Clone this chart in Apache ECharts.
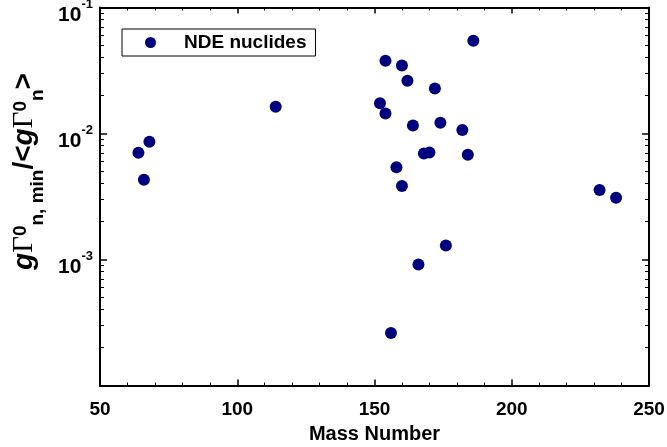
<!DOCTYPE html>
<html>
<head>
<meta charset="utf-8">
<script src="https://cdn.jsdelivr.net/npm/echarts@6/dist/echarts.min.js"></script>
<style>html,body{margin:0;padding:0;background:#fff;}#c{width:667px;height:447px;}</style>
</head>
<body>
<div id="c"></div>
<script>
// Data
const massNumber = [64, 66, 68, 114, 152, 154, 154, 156, 158, 160, 160, 162, 164, 166, 168, 170, 172, 174, 176, 182, 184, 186, 232, 238];
const ratio      = [0.00703, 0.0043, 0.0086, 0.0163, 0.0174, 0.0144, 0.0378, 0.000261, 0.0054, 0.0346, 0.00383, 0.0262, 0.01157, 0.000913, 0.00694, 0.00707, 0.0228, 0.01216, 0.00129, 0.01064, 0.00678, 0.0544, 0.00356, 0.00309];
const seriesName = 'NDE nuclides';
const xTicks = [50, 100, 150, 200, 250];
const yMinorTicks = [2e-4,3e-4,4e-4,5e-4,6e-4,7e-4,8e-4,9e-4, 2e-3,3e-3,4e-3,5e-3,6e-3,7e-3,8e-3,9e-3, 2e-2,3e-2,4e-2,5e-2,6e-2,7e-2,8e-2,9e-2];
const yLabelled = [0.001, 0.01, 0.1];

const points = massNumber.map((m, i) => [m, ratio[i]]);
const minorLog = yMinorTicks.map(v => Math.log10(v));
const FONT = 'Liberation Sans, Arial, sans-serif';
const axisLine = {show: true, lineStyle: {color: '#000', width: 2}};

function yLabel(v) {
  const e = Math.round(Math.log10(v));
  if (!yLabelled.some(t => Math.abs(Math.log10(t) - e) < 1e-6)) return '';
  return '{b|10}{s|' + e + '}';
}

const minorAxis = (pos) => ({
  type: 'value', position: pos, min: -4, max: -1,
  axisLine: {show: false},
  axisTick: {show: true, inside: true, length: 4, lineStyle: {color: '#000', width: 1}, customValues: minorLog},
  splitLine: {show: false},
  axisLabel: {show: false}
});

const chart = echarts.init(document.getElementById('c'), null, {renderer: 'canvas'});
chart.setOption({
  animation: false,
  backgroundColor: '#fff',
  grid: {left: 100, right: 18, top: 7.5, bottom: 61.5, containLabel: false, outerBoundsMode: 'none'},
  legend: {
    show: true,
    data: [seriesName],
    left: 122, top: 29,
    orient: 'horizontal',
    icon: 'circle',
    itemWidth: 11, itemHeight: 11,
    padding: [4, 9, 4, 23],
    borderColor: '#000', borderWidth: 1, borderRadius: 0,
    backgroundColor: '#fff',
    textStyle: {fontFamily: FONT, fontWeight: 'bold', fontSize: 19, color: '#000', padding: [0, 0, 0, 23]},
    selectedMode: false
  },
  xAxis: [
    {
      type: 'value', position: 'bottom', min: 50, max: 250, interval: 50,
      axisLine: axisLine,
      axisTick: {show: true, inside: true, length: 6, lineStyle: {color: '#000', width: 1.5}},
      minorTick: {show: true, splitNumber: 5, length: 3, lineStyle: {color: '#000', width: 1}},
      splitLine: {show: false}, minorSplitLine: {show: false},
      axisLabel: {show: true, margin: 15, fontFamily: FONT, fontWeight: 'bold', fontSize: 19, color: '#000', customValues: xTicks},
      name: 'Mass Number', nameLocation: 'middle', nameGap: 39,
      nameTextStyle: {fontFamily: FONT, fontWeight: 'bold', fontSize: 20, color: '#000'}
    },
    {
      type: 'value', position: 'top', min: 50, max: 250, interval: 50,
      axisLine: axisLine,
      axisTick: {show: true, inside: true, length: 6, lineStyle: {color: '#000', width: 1.5}},
      minorTick: {show: true, splitNumber: 5, length: 3, lineStyle: {color: '#000', width: 1}},
      splitLine: {show: false}, minorSplitLine: {show: false},
      axisLabel: {show: false}
    }
  ],
  yAxis: [
    {
      type: 'log', logBase: 10, position: 'left', min: 0.0001, max: 0.1,
      axisLine: axisLine,
      axisTick: {show: true, inside: true, length: 7, lineStyle: {color: '#000', width: 1.5}},
      splitLine: {show: false},
      axisLabel: {
        show: true, margin: 7, formatter: yLabel,
        rich: {
          b: {fontFamily: FONT, fontWeight: 'bold', fontSize: 21, color: '#000', verticalAlign: 'top', lineHeight: 30, padding: [12, 0, 0, 0]},
          s: {fontFamily: FONT, fontWeight: 'bold', fontSize: 13, color: '#000', verticalAlign: 'top', padding: [5, 0, 0, 0]}
        }
      },
      name: '{g|g}{G|\u0393}{sup|0}{sub|n, min}{m|/<}{g|g}{G|\u0393}{sup|0}{sub|n}{m|>}',
      nameLocation: 'middle', nameRotate: 90, nameGap: 46,
      nameTextStyle: {
        color: '#000',
        padding: [0, 0, 0, 50],
        rich: {
          g: {fontFamily: FONT, fontWeight: 'bold', fontStyle: 'italic', fontSize: 28, color: '#000', verticalAlign: 'top', lineHeight: 40, padding: [3, 0, 0, 0]},
          G: {fontFamily: 'Liberation Serif, Times New Roman, serif', fontWeight: 'normal', fontSize: 29, color: '#000', verticalAlign: 'top', lineHeight: 40, padding: [3, 0, 0, 0]},
          m: {fontFamily: FONT, fontWeight: 'bold', fontSize: 28, color: '#000', verticalAlign: 'top', lineHeight: 40, padding: [3, 0, 0, 0]},
          sup: {fontFamily: FONT, fontWeight: 'bold', fontSize: 19, color: '#000', verticalAlign: 'top', padding: [4, 0, 0, 0]},
          sub: {fontFamily: FONT, fontWeight: 'bold', fontSize: 19, color: '#000', verticalAlign: 'top', padding: [21, 0, 0, 0]}
        }
      }
    },
    minorAxis('left'),
    {
      type: 'log', logBase: 10, position: 'right', min: 0.0001, max: 0.1,
      axisLine: axisLine,
      axisTick: {show: true, inside: true, length: 7, lineStyle: {color: '#000', width: 1.5}},
      splitLine: {show: false},
      axisLabel: {show: false}
    },
    minorAxis('right')
  ],
  series: [{
    name: seriesName,
    type: 'scatter',
    xAxisIndex: 0, yAxisIndex: 0,
    data: points,
    symbol: 'circle',
    symbolSize: 12,
    itemStyle: {color: '#00007F', opacity: 1},
    emphasis: {disabled: true}
  }]
});
</script>
</body>
</html>
